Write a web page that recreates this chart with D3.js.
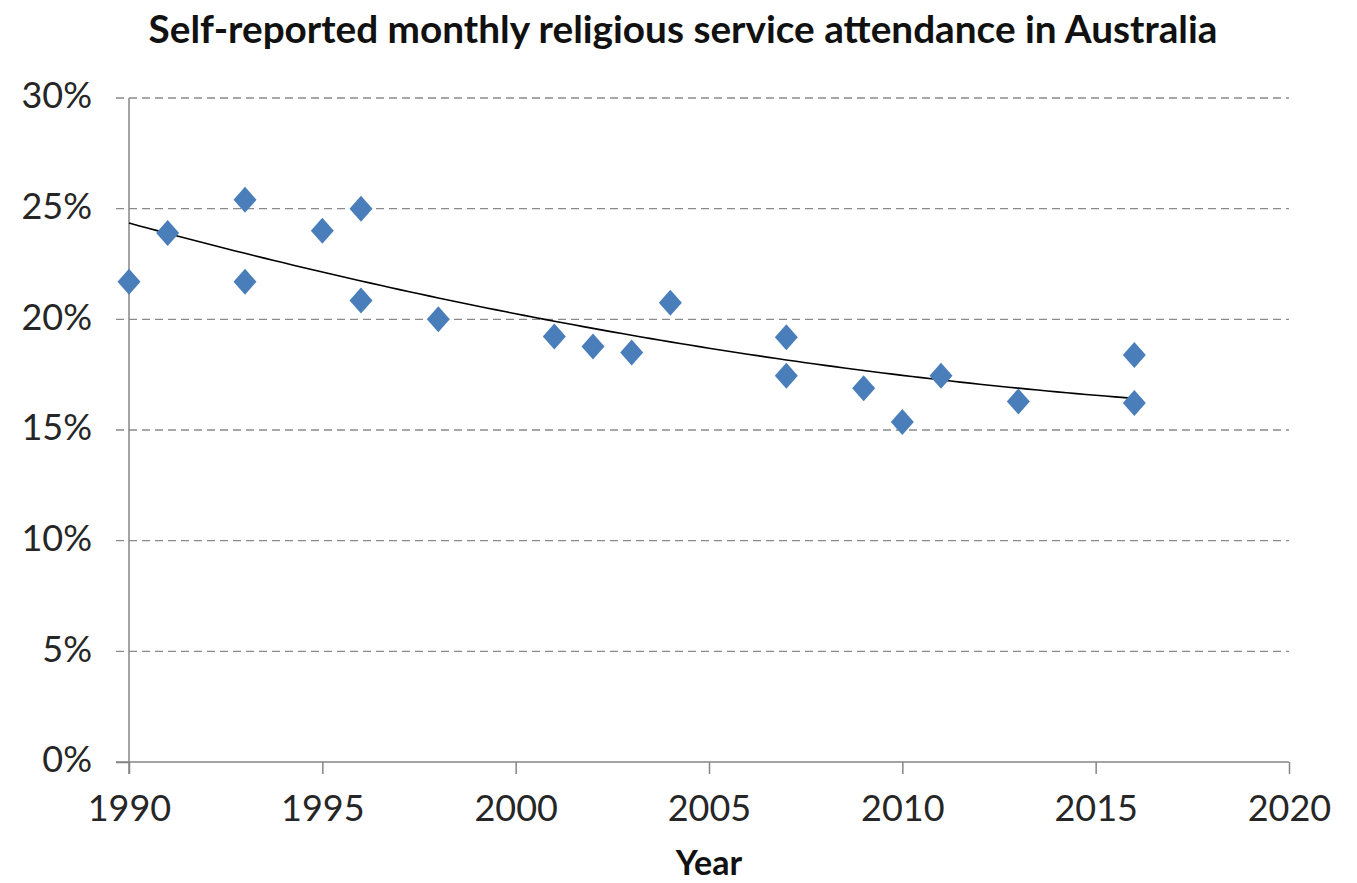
<!DOCTYPE html>
<html>
<head>
<meta charset="utf-8">
<script src="https://cdn.jsdelivr.net/npm/d3@7"></script>
<style>
  html, body { margin: 0; padding: 0; background: #fff; }
  svg { display: block; }
  text { font-family: Lato, "Open Sans", sans-serif; }
</style>
</head>
<body>
<svg id="chart" width="1357" height="883"></svg>
<script>
// ---- Data ----
const years = [1990, 1991, 1993, 1993, 1995, 1996, 1996, 1998, 2001, 2002, 2003, 2004, 2007, 2007, 2009, 2010, 2011, 2013, 2016, 2016];
const attendance = [21.7, 23.9, 25.4, 21.7, 24.0, 25.0, 20.85, 20.0, 19.22, 18.77, 18.5, 20.75, 19.19, 17.45, 16.89, 15.36, 17.45, 16.29, 18.39, 16.22];
const xTicks = [1990, 1995, 2000, 2005, 2010, 2015, 2020];
const yTicks = [0, 5, 10, 15, 20, 25, 30];
const titleText = "Self-reported monthly religious service attendance in Australia";
const xAxisTitle = "Year";

// ---- Layout ----
const svg = d3.select("#chart");
const x = d3.scaleLinear().domain([1990, 2020]).range([129, 1289]);
const y = d3.scaleLinear().domain([0, 30]).range([762, 98]);

// gridlines (dashed)
svg.append("g").selectAll("line").data(yTicks.filter(d => d > 0)).join("line")
  .attr("x1", x(1990) - 13).attr("x2", x(2020))
  .attr("y1", d => y(d)).attr("y2", d => y(d))
  .attr("stroke", "#8a8a8a").attr("stroke-width", 1.3)
  .attr("stroke-dasharray", "8,5");

// y axis
const yAxis = d3.axisLeft(y).tickValues(yTicks).tickSize(13).tickPadding(24)
  .tickFormat(d => d + "%");
const gy = svg.append("g").attr("transform", `translate(${x(1990)},0)`).call(yAxis);
gy.select(".domain").remove();
gy.append("line").attr("x1", 0).attr("x2", 0).attr("y1", y(30)).attr("y2", y(0) + 12)
  .attr("stroke", "#868686").attr("stroke-width", 1.5);
gy.selectAll(".tick line").attr("stroke", d => d === 0 ? "#868686" : "none").attr("stroke-width", 1.5);
gy.selectAll(".tick text").attr("font-size", 36).attr("fill", "#262626").attr("dy", "0.27em")
  .attr("font-family", "Lato, sans-serif");

// x axis
const xAxis = d3.axisBottom(x).tickValues(xTicks).tickSize(12).tickPadding(21)
  .tickFormat(d3.format("d"));
const gx = svg.append("g").attr("transform", `translate(0,${y(0)})`).call(xAxis);
gx.select(".domain").remove();
gx.append("line").attr("x1", x(1990) - 13).attr("x2", x(2020)).attr("y1", 0).attr("y2", 0)
  .attr("stroke", "#868686").attr("stroke-width", 1.5);
gx.selectAll(".tick line").attr("stroke", "#868686").attr("stroke-width", 1.5);
gx.selectAll(".tick text").attr("font-size", 36).attr("fill", "#262626")
  .attr("font-family", "Lato, sans-serif");

// quadratic least-squares trendline computed from the data
function quadFit(xs, ys) {
  const x0 = 1990;
  let S = [0,0,0,0,0], T = [0,0,0];
  xs.forEach((xv, i) => {
    const t = xv - x0;
    for (let k = 0; k < 5; k++) S[k] += Math.pow(t, k);
    for (let k = 0; k < 3; k++) T[k] += ys[i] * Math.pow(t, k);
  });
  const A = [[S[0],S[1],S[2],T[0]],[S[1],S[2],S[3],T[1]],[S[2],S[3],S[4],T[2]]];
  for (let i = 0; i < 3; i++) {
    for (let j = i + 1; j < 3; j++) {
      const f = A[j][i] / A[i][i];
      for (let k = i; k < 4; k++) A[j][k] -= f * A[i][k];
    }
  }
  const c = [0,0,0];
  for (let i = 2; i >= 0; i--) {
    let s = A[i][3];
    for (let k = i + 1; k < 3; k++) s -= A[i][k] * c[k];
    c[i] = s / A[i][i];
  }
  return xv => { const t = xv - x0; return c[0] + c[1]*t + c[2]*t*t; };
}
const f = quadFit(years, attendance);
const trendX = d3.range(d3.min(years), d3.max(years) + 0.01, 0.25);
svg.append("path").datum(trendX)
  .attr("d", d3.line().x(d => x(d)).y(d => y(f(d))))
  .attr("fill", "none").attr("stroke", "#000").attr("stroke-width", 1.6);

// diamonds
svg.append("g").selectAll("path").data(years.map((yr, i) => [yr, attendance[i]])).join("path")
  .attr("transform", d => `translate(${x(d[0])},${y(d[1])})`)
  .attr("d", "M0,-13L11.5,0L0,13L-11.5,0Z")
  .attr("fill", "#4a7ebb");

// title
const title = svg.append("text").attr("x", 683).attr("y", 43).attr("text-anchor", "middle")
  .attr("font-size", 30).attr("font-weight", "bold").attr("fill", "#111").text(titleText);
const tw = title.node().getComputedTextLength();
title.attr("font-size", 30 * 1069 / tw);

// x axis title
svg.append("text").attr("x", 709).attr("y", 875).attr("text-anchor", "middle")
  .attr("font-size", 34).attr("font-weight", "bold").attr("fill", "#111").text(xAxisTitle);
</script>
</body>
</html>
